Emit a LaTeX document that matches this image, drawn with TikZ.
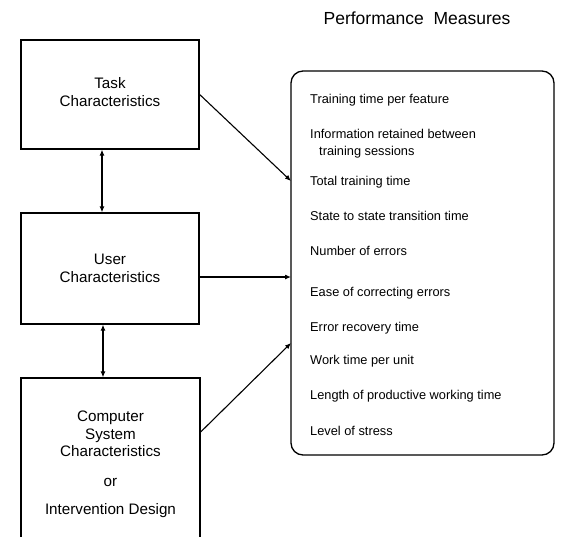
\documentclass[tikz,border=0pt]{standalone}
\usepackage{fontspec}
\setmainfont{Liberation Sans}
\usetikzlibrary{arrows.meta}
\begin{document}
\begin{tikzpicture}[x=1pt,y=1pt,
  box/.style={draw,line width=1.3pt,inner sep=0pt},
  boxtext/.style={align=center,font=\fontsize{15.2}{17.5}\selectfont},
  item/.style={anchor=west,inner sep=0pt,text height=9pt,text depth=3pt,font=\fontsize{12.8}{15}\selectfont},
  arr/.style={line width=1.1pt,-{Latex[length=6pt,width=5pt]}},
  darr/.style={line width=1.1pt,{Latex[length=6pt,width=5pt]}-{Latex[length=6pt,width=5pt]}}]
\useasboundingbox (0,0) rectangle (561,-536);
\clip (0,0) rectangle (561,-536);
% left boxes
\node[box,minimum width=178pt,minimum height=109pt] (task) at (110,-94.5) {};
\node[boxtext] (tasktext) at (110,-92) {Task\\Characteristics};
\node[box,minimum width=178pt,minimum height=111pt] (user) at (110,-268.5) {};
\node[boxtext] (usertext) at (110,-268.5) {User\\Characteristics};
\node[box,minimum width=179pt,minimum height=182pt] (comp) at (110.5,-469) {};
\node[boxtext] (comptext) at (110.5,-464.5) {Computer\\System\\Characteristics\\[12pt]or\\[11pt]Intervention Design};
% performance box
\node[font=\fontsize{17.5}{20}\selectfont] (title) at (417,-18) {Performance\ \ Measures};
\node[box,rounded corners=12pt,minimum width=263pt,minimum height=384pt] (perf) at (422.5,-263) {};
\node[item] (m1) at (310,-100) {Training time per feature};
\node[item] (m2) at (310,-135) {Information retained between};
\node[item] (m2b) at (319,-152) {training sessions};
\node[item] (m3) at (310,-182) {Total training time};
\node[item] (m4) at (310,-217) {State to state transition time};
\node[item] (m5) at (310,-252) {Number of errors};
\node[item] (m6) at (310,-293) {Ease of correcting errors};
\node[item] (m7) at (310,-328) {Error recovery time};
\node[item] (m8) at (310,-361) {Work time per unit};
\node[item] (m9) at (310,-396) {Length of productive working time};
\node[item] (m10) at (310,-432) {Level of stress};
% connector coordinates
\coordinate (pin1) at (291,-181);
\coordinate (pin2) at (291,-277);
\coordinate (pin3) at (291,-343);
\coordinate (cout) at (200,-432);
\coordinate (va) at (102,0);
\coordinate (vb) at (103,0);
% connectors
\draw[arr] (task.east) -- (pin1);
\draw[arr] (user.east |- pin2) -- (pin2);
\draw[arr] (comp.east |- cout) -- (pin3);
\draw[darr] (task.south -| va) -- (user.north -| va);
\draw[darr] (user.south -| vb) -- (comp.north -| vb);
\end{tikzpicture}
\end{document}
